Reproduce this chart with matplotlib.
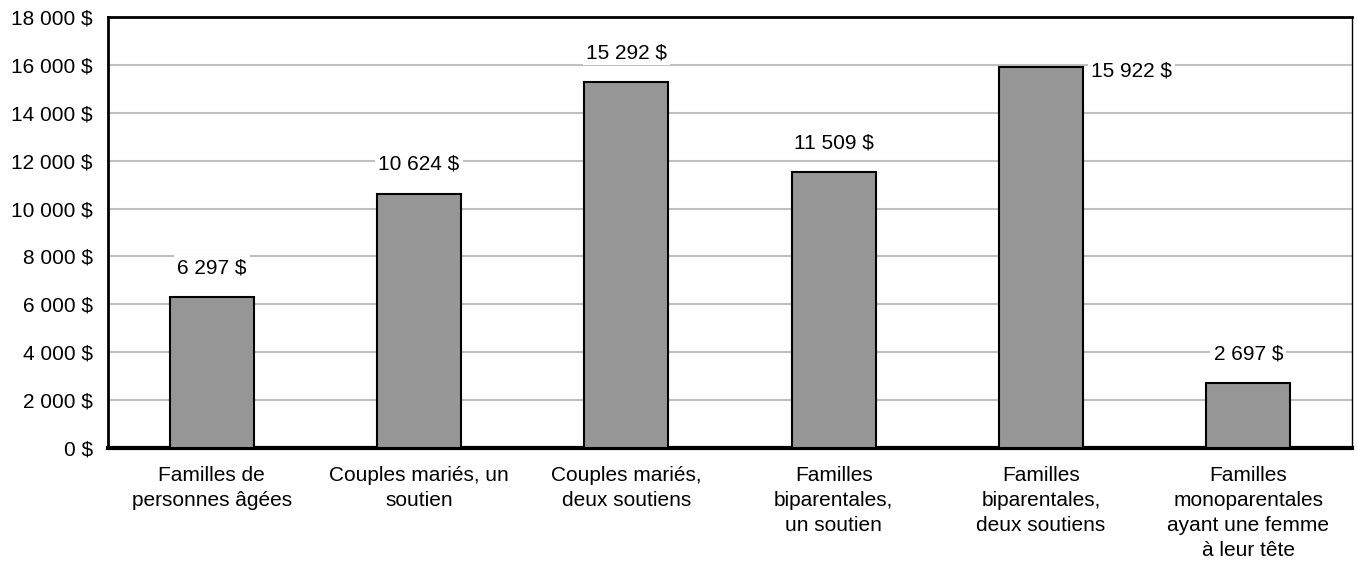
import matplotlib
matplotlib.use('Agg')
import matplotlib.pyplot as plt
import numpy as np

plt.rcParams['font.family'] = ['Liberation Sans', 'DejaVu Sans']

# Données
categories = [
    'Familles de\npersonnes âgées',
    'Couples mariés, un\nsoutien',
    'Couples mariés,\ndeux soutiens',
    'Familles\nbiparentales,\nun soutien',
    'Familles\nbiparentales,\ndeux soutiens',
    'Familles\nmonoparentales\nayant une femme\nà leur tête',
]
values = [6297, 10624, 15292, 11509, 15922, 2697]
yticks = np.arange(0, 18001, 2000)


def fmt(v):
    return f'{v:,}'.replace(',', ' ') + ' $'


fig = plt.figure(figsize=(13.57, 5.69), dpi=100)
ax = fig.add_axes([0.0796, 0.2127, 0.9167, 0.7573])

x = np.arange(len(values))
ax.bar(x, values, width=0.405, color='#969696', edgecolor='black', linewidth=1.5, zorder=3)

ax.set_xlim(-0.5, len(values) - 0.5)
ax.set_ylim(0, 18000)
ax.set_yticks(yticks)
ax.set_yticklabels([fmt(v) for v in yticks])
ax.set_xticks(x)
ax.set_xticklabels(categories, linespacing=1.4)
ax.tick_params(axis='both', length=0, labelsize=15)
ax.tick_params(axis='y', pad=11)
ax.tick_params(axis='x', pad=13)

ax.grid(axis='y', color='#c0c0c0', linewidth=1.5, zorder=0)
ax.set_axisbelow(True)

ax.spines['top'].set_linewidth(2)
ax.spines['left'].set_linewidth(2)
ax.spines['bottom'].set_linewidth(3)
ax.spines['right'].set_linewidth(1)

# Étiquettes de valeurs
for i, v in enumerate(values):
    if i == 4:
        ax.annotate(fmt(v), (i + 0.2025, v), xytext=(6, -3), textcoords='offset points',
                    ha='left', va='center', fontsize=15, zorder=4,
                    bbox=dict(boxstyle='square,pad=0.15', facecolor='white', edgecolor='none'))
    else:
        ax.annotate(fmt(v), (i, v), xytext=(0, 21), textcoords='offset points',
                    ha='center', va='center', fontsize=15, zorder=4,
                    bbox=dict(boxstyle='square,pad=0.15', facecolor='white', edgecolor='none'))

plt.savefig('out.png', dpi=100)
plt.close()
